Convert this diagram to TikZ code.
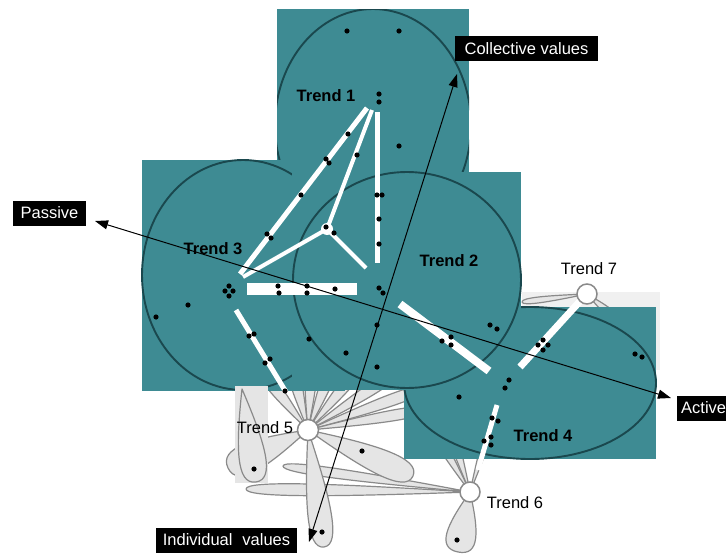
\documentclass[tikz,border=0pt]{standalone}
\usepackage{fontspec}
\setmainfont{Liberation Sans}
\usetikzlibrary{arrows.meta}
\definecolor{tealfill}{RGB}{62,139,147}
\definecolor{tealdark}{RGB}{26,72,78}
\definecolor{petalfill}{RGB}{229,229,229}
\definecolor{petalline}{RGB}{138,138,138}
\definecolor{bandgrey}{RGB}{240,240,240}
\tikzset{
 petalst/.style={fill=petalfill, draw=petalline, line width=1.2pt, line join=round},
 trendrect/.style={fill=tealfill, draw=none},
 trendring/.style={draw=tealdark, line width=1.9pt},
 whitebar/.style={draw=white, line width=#1},
 dotst/.style={fill=black, draw=none},
 trendlbl/.style={font=\fontsize{16.5}{19}\selectfont\bfseries, inner sep=0pt},
 plainlbl/.style={font=\fontsize{16.5}{19}\selectfont, inner sep=0pt},
 axisbox/.style={fill=black, text=white, font=\fontsize{16.5}{19}\selectfont, inner sep=0pt, minimum height=25pt},
 axisline/.style={line width=1pt, {Triangle[length=13pt,width=9pt]}-{Triangle[length=13pt,width=9pt]}},
 hubst/.style={circle, fill=white, draw=petalline, line width=1.5pt, minimum size=21pt, inner sep=0pt},
}
% petal: narrow end at (#1,#2), round end at (#3,#4), width #5
\newcommand\petal[5]{%
 \pgfmathsetmacro\pA{atan2((#2)-(#4),(#3)-(#1))}%
 \pgfmathsetmacro\pL{veclen((#3)-(#1),(#4)-(#2))}%
 \draw[petalst,shift={(#1,#2)},rotate=\pA,x=1pt,y=1pt] (0,0) .. controls (0.6*\pL,0.55*#5) and (\pL,0.75*#5) .. (\pL,0) .. controls (\pL,-0.75*#5) and (0.6*\pL,-0.55*#5) .. (0,0) -- cycle;}
\begin{document}
\begin{tikzpicture}[x=1pt,y=-1pt]
\useasboundingbox (0,0) rectangle (726,554);
% grey band behind Trend 7
\fill[bandgrey] (522,292) rectangle (660,370);
% Trend 6 petals
\petal{470}{492}{458}{552}{30}
\petal{470}{492}{246}{489}{12}
\petal{470}{492}{283}{466}{10}
\petal{470}{492}{430}{425}{9}
\petal{470}{492}{447}{418}{9}
\petal{470}{492}{497}{405}{9}
% Trend 7 petals
\petal{587}{294}{522}{302}{6}
\petal{587}{294}{618}{320}{8}
% Trend 5 petals
\petal{308}{430}{262}{372}{12}
\petal{308}{430}{290}{360}{12}
\petal{308}{430}{312}{355}{12}
\petal{308}{430}{335}{360}{12}
\petal{308}{430}{362}{365}{12}
\petal{308}{430}{398}{372}{12}
\petal{308}{430}{425}{388}{12}
\petal{308}{430}{425}{410}{11}
\petal{308}{430}{228}{468}{30}
\petal{308}{430}{413}{476}{26}
\petal{308}{430}{324}{547}{24}
% Trend 1
\fill[trendrect] (277,9) rectangle (469,240);
\begin{scope}
\clip (277,9) rectangle (469,240);
\draw[trendring] (373,125) ellipse[x radius=98pt, y radius=116pt];
\end{scope}
% Trend 3
\fill[trendrect] (142,160) rectangle (345,391);
\draw[trendring] (243,275) ellipse[x radius=101pt, y radius=115pt];
% Trend 4
\fill[trendrect] (404,307) rectangle (656,459);
\draw[trendring] (530,383) ellipse[x radius=126pt, y radius=76pt];
% Trend 2
\fill[trendrect] (292,172) rectangle (521,390);
\draw[trendring] (407,280) ellipse[x radius=114pt, y radius=108pt];
% grey patch with petal below Trend 3
\fill[petalfill] (235,386) rectangle (268,483);
\petal{242}{389}{256}{482}{27}
% white bars
\draw[whitebar=5pt] (367,108) -- (240,274);
\draw[whitebar=4pt] (372,110) -- (327,229);
\draw[whitebar=5pt] (377,112) -- (377,263);
\draw[whitebar=4pt] (327,229) -- (243,277);
\draw[whitebar=4pt] (327,229) -- (366,268);
\fill[white] (327,229) circle[radius=6pt];
\fill[white] (247,283) rectangle (357,295);
\draw[whitebar=5pt] (236,310) -- (286,392);
\draw[whitebar=8pt] (400,304) -- (489,371);
\draw[whitebar=7pt] (520,367) -- (582,299);
\draw[whitebar=5pt] (497,405) -- (478,470);
% dots
\foreach \p in {(347,31),(399,31),(379,94),(379,102),(399,146),(348,134),(357,155),(326,159),(329,163),
 (301,195),(377,195),(382,195),(379,219),(379,244),(326,227),(334,233),(267,234),(271,238),
 (229,286),(225,291),(233,291),(229,296),(278,286),(279,293),(307,286),(307,293),(335,289),
 (379,288),(383,293),(188,305),(156,317),(249,336),(254,334),(265,363),(270,359),(309,339),(285,391),
 (377,325),(346,353),(377,367),(490,325),(497,329),(442,341),(451,337),(451,345),
 (538,345),(543,340),(548,345),(543,350),(635,354),(642,357),(509,380),(505,388),(459,397),
 (492,418),(498,421),(491,437),(484,441),(491,445),(362,451),(254,469),(322,532),(457,540)}
 \fill[dotst] \p circle[radius=2.6pt];
% hubs
\node[hubst] (t5) at (308,430) {};
\node[hubst, minimum size=20pt] (t6) at (470,492) {};
\node[hubst, minimum size=20pt] (t7) at (587,294) {};
% labels
\node[trendlbl] (l1) at (326,96) {Trend 1};
\node[trendlbl] (l3) at (213,249) {Trend 3};
\node[trendlbl] (l2) at (449,261) {Trend 2};
\node[trendlbl] (l4) at (543,436) {Trend 4};
\node[plainlbl] (l7) at (589,269) {Trend 7};
\node[plainlbl] (l5) at (265,428) {Trend 5};
\node[plainlbl] (l6) at (515,503) {Trend 6};
% axes
\coordinate (passiveTip) at (95,221);
\coordinate (activeTip) at (671,398);
\coordinate (collTip) at (457,74);
\coordinate (indivTip) at (309,542);
\draw[axisline] (passiveTip) -- (activeTip);
\draw[axisline] (indivTip) -- (collTip);
\node[axisbox, minimum width=143pt] (coll) at (526.5,48.5) {Collective values};
\node[axisbox, minimum width=73pt] (passive) at (49.5,213) {Passive};
\node[axisbox, anchor=west, inner xsep=4pt] (active) at (677,408) {Active};
\node[axisbox, minimum width=141pt] (indiv) at (226.5,540) {Individual\hspace{0.6em}values};
\end{tikzpicture}
\end{document}
